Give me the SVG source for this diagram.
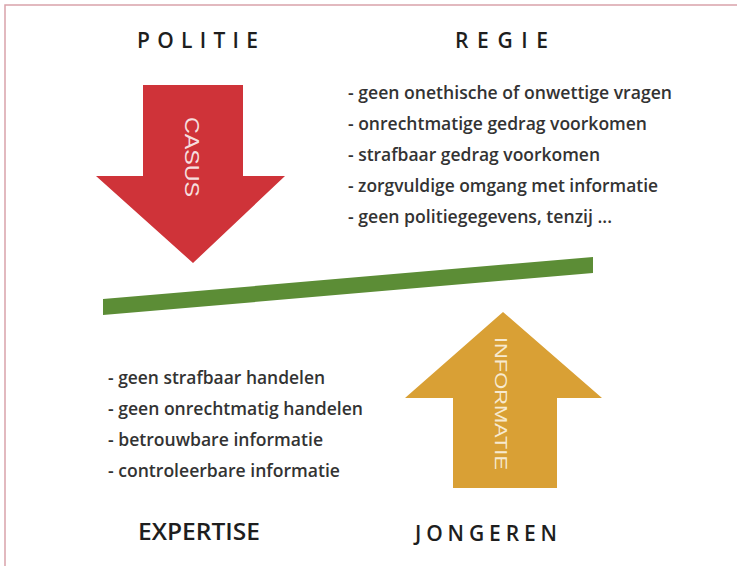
<svg xmlns="http://www.w3.org/2000/svg" width="737" height="566" viewBox="0 0 737 566">
<style>
  .title { font-family: "Open Sans", "Liberation Sans", sans-serif; font-size: 21px; font-weight: 600; fill: #1e1e1e; }
  .item { font-family: "Open Sans", "Liberation Sans", sans-serif; font-size: 18px; font-weight: 600; fill: #333333; }
  .vert { font-family: "Liberation Sans", Arial, sans-serif; font-size: 19px; }
</style>
<rect x="0" y="0" width="737" height="566" fill="#ffffff"/>
<path d="M5,566 V5 H737" fill="none" stroke="#d9a3aa" stroke-width="1.5"/>

<g id="politie">
  <text class="title" x="137" y="48" textLength="121" lengthAdjust="spacing">POLITIE</text>
</g>
<g id="regie">
  <text class="title" x="455" y="48" textLength="93" lengthAdjust="spacing">REGIE</text>
  <text class="item" x="348" y="99" textLength="324" lengthAdjust="spacingAndGlyphs">- geen onethische of onwettige vragen</text>
  <text class="item" x="348" y="130" textLength="299" lengthAdjust="spacingAndGlyphs">- onrechtmatige gedrag voorkomen</text>
  <text class="item" x="348" y="161" textLength="252" lengthAdjust="spacingAndGlyphs">- strafbaar gedrag voorkomen</text>
  <text class="item" x="348" y="192" textLength="310" lengthAdjust="spacingAndGlyphs">- zorgvuldige omgang met informatie</text>
  <text class="item" x="348" y="223" textLength="264" lengthAdjust="spacingAndGlyphs">- geen politiegegevens, tenzij ...</text>
</g>

<g id="casus">
  <polygon points="143,85 243,85 243,176 285,176 193,263 96,176 143,176" fill="#cf3339"/>
  <text class="vert" fill="#f6dede" style="font-size:20px" transform="translate(185,117) rotate(90)" textLength="80" lengthAdjust="spacingAndGlyphs">CASUS</text>
</g>

<g id="balans">
  <polygon points="103,299 593,257 593,273 103,315" fill="#5c8d36"/>
</g>

<g id="informatie">
  <polygon points="503,312 602,398 557,398 557,488 453,488 453,398 405,398" fill="#d9a035"/>
  <text class="vert" fill="#f7ead0" style="font-size:17px" transform="translate(495,337) rotate(90)" textLength="133" lengthAdjust="spacingAndGlyphs">INFORMATIE</text>
</g>

<g id="expertise">
  <text class="item" x="108" y="384" textLength="217" lengthAdjust="spacingAndGlyphs">- geen strafbaar handelen</text>
  <text class="item" x="108" y="415" textLength="255" lengthAdjust="spacingAndGlyphs">- geen onrechtmatig handelen</text>
  <text class="item" x="108" y="446" textLength="215" lengthAdjust="spacingAndGlyphs">- betrouwbare informatie</text>
  <text class="item" x="108" y="477" textLength="232" lengthAdjust="spacingAndGlyphs">- controleerbare informatie</text>
  <text class="title" x="138" y="540" style="font-size:23px" textLength="122" lengthAdjust="spacingAndGlyphs">EXPERTISE</text>
</g>

<g id="jongeren">
  <text class="title" x="415" y="541" textLength="142" lengthAdjust="spacing">JONGEREN</text>
</g>
</svg>
